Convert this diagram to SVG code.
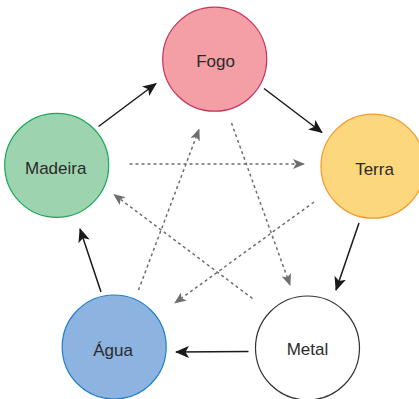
<svg xmlns="http://www.w3.org/2000/svg" width="419" height="399" viewBox="0 0 419 399">
<defs>
<marker id="ah" markerUnits="userSpaceOnUse" markerWidth="14" markerHeight="12" viewBox="0 0 14 12" refX="13" refY="6" orient="auto">
<path d="M0,0 L14,6 L0,12 L3.5,6 z" fill="#1a1a1a"/>
</marker>
<marker id="ahd" markerUnits="userSpaceOnUse" markerWidth="12" markerHeight="10" viewBox="0 0 12 10" refX="11" refY="5" orient="auto">
<path d="M0,0 L12,5 L0,10 L3,5 z" fill="#6e6e6e"/>
</marker>
</defs>
<style>
.solid{stroke:#1a1a1a;stroke-width:1.5;fill:none;marker-end:url(#ah)}
.dash{stroke:#6e6e6e;stroke-width:1.5;stroke-dasharray:3 3;fill:none;marker-end:url(#ahd)}
.lbl{font-family:"Liberation Sans",Arial,sans-serif;font-size:17px;fill:#2a2a2a;text-anchor:middle}
</style>
<rect width="419" height="399" fill="#ffffff"/>
<g id="connectors">
<line class="solid" x1="98.5" y1="126.5" x2="156" y2="83.5"/>
<line class="solid" x1="264" y1="88.5" x2="322" y2="132.5"/>
<line class="solid" x1="359" y1="223" x2="336" y2="290"/>
<line class="solid" x1="248.5" y1="351.5" x2="176" y2="352"/>
<line class="solid" x1="101" y1="292" x2="80" y2="229"/>
<line class="dash" x1="129.5" y1="164" x2="304" y2="164"/>
<line class="dash" x1="231.5" y1="123" x2="290" y2="285"/>
<line class="dash" x1="314" y1="202" x2="175" y2="303"/>
<line class="dash" x1="252.5" y1="298.5" x2="114" y2="194.5"/>
<line class="dash" x1="138.5" y1="290" x2="199" y2="129.5"/>
</g>
<g id="fogo">
<circle cx="214.7" cy="59.2" r="52" fill="#f49fa5" stroke="#c8325a" stroke-width="1.2"/>
<text class="lbl" x="215.5" y="66.5">Fogo</text>
</g>
<g id="madeira">
<circle cx="56.7" cy="165.3" r="52" fill="#9dd3ae" stroke="#1aa85a" stroke-width="1.2"/>
<text class="lbl" x="55.7" y="174">Madeira</text>
</g>
<g id="terra">
<circle cx="373" cy="166.2" r="52" fill="#fdd77e" stroke="#f3992a" stroke-width="1.2"/>
<text class="lbl" x="374.5" y="175">Terra</text>
</g>
<g id="agua">
<circle cx="114.2" cy="347" r="52" fill="#8db4e0" stroke="#1e7ec8" stroke-width="1.2"/>
<text class="lbl" x="113" y="356">Água</text>
</g>
<g id="metal">
<circle cx="307.5" cy="348" r="52" fill="#ffffff" stroke="#333333" stroke-width="1.2"/>
<text class="lbl" x="307.5" y="355">Metal</text>
</g>
</svg>
